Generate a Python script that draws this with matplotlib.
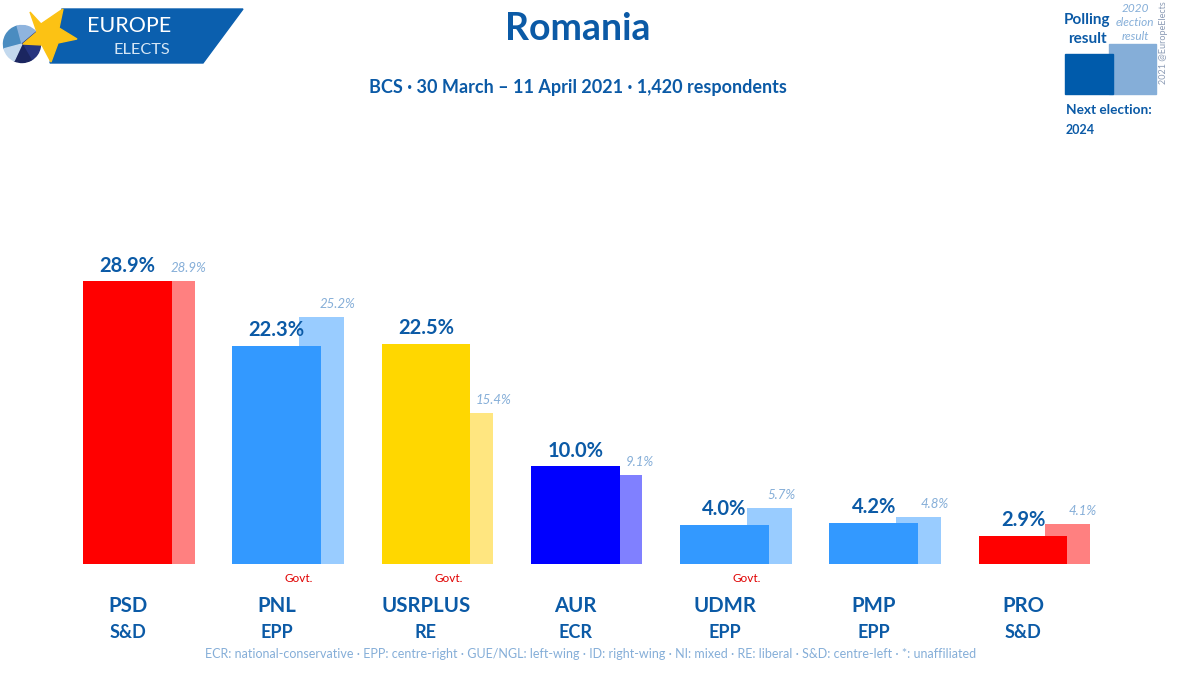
import matplotlib
matplotlib.use("Agg")
import matplotlib.pyplot as plt
from matplotlib.patches import Polygon, Rectangle, Wedge

plt.rcParams['font.family'] = ['Lato', 'DejaVu Sans']

# Poll data
parties = ["PSD", "PNL", "USRPLUS", "AUR", "UDMR", "PMP", "PRO"]
groups = ["S&D", "EPP", "RE", "ECR", "EPP", "EPP", "S&D"]
polling = [28.9, 22.3, 22.5, 10.0, 4.0, 4.2, 2.9]
election = [28.9, 25.2, 15.4, 9.1, 5.7, 4.8, 4.1]
govt = [False, True, True, False, True, False, False]
colors = ["#ff0000", "#3399ff", "#ffd700", "#0000ff", "#3399ff", "#3399ff", "#ff0000"]
light_colors = ["#ff8080", "#99ccff", "#ffe680", "#8080ff", "#99ccff", "#99ccff", "#ff8080"]

footnote = ("ECR: national-conservative · EPP: centre-right · GUE/NGL: left-wing · "
            "ID: right-wing · NI: mixed · RE: liberal · S&D: centre-left · *: unaffiliated")

DARK = "#0b5aa6"
LIGHT = "#85aed8"
PX_GROUP = 149.25  # pixels between parties
PX_PCT = 9.79  # pixels per percentage point
X0, Y0 = 127.5, 564  # pixel position of first party, baseline

fig = plt.figure(figsize=(12, 6.76), dpi=100)

# chart axes cover the whole figure, ticks are replaced by text labels
ax = fig.add_axes([0, 0, 1, 1])
ax.set_xlim(-X0 / PX_GROUP, (1200 - X0) / PX_GROUP)
ax.set_ylim(-(676 - Y0) / PX_PCT, Y0 / PX_PCT)
ax.axis("off")

x = list(range(len(parties)))
ax.bar([i + 0.30 for i in x], election, width=0.30, color=light_colors, zorder=1)
ax.bar(x, polling, width=0.596, color=colors, zorder=2)

# election labels sit a bit differently on each bar in the original
label_shift = [0.41, 0.41, 0.45, 0.43, 0.38, 0.41, 0.40]

for i in x:
    ax.annotate(f"{polling[i]:.1f}%", (i, polling[i]), xytext=(0, 4), textcoords="offset points",
                ha="center", va="bottom", fontsize=14.5, fontweight="bold", color=DARK, zorder=3)
    ax.annotate(f"{election[i]:.1f}%", (i + label_shift[i], election[i]), xytext=(0, 5), textcoords="offset points",
                ha="center", va="bottom", fontsize=9.5, style="italic", color=LIGHT, zorder=3)
    ax.annotate(parties[i], (i, 0), xytext=(0, -30.5), textcoords="offset points",
                ha="center", va="center", fontsize=14.7, fontweight="bold", color=DARK)
    ax.annotate(groups[i], (i, 0), xytext=(0, -49), textcoords="offset points",
                ha="center", va="center", fontsize=13, fontweight="bold", color=DARK)
    if govt[i]:
        ax.annotate("Govt.", (i + 0.15, 0), xytext=(0, -10.5), textcoords="offset points",
                    ha="center", va="center", fontsize=8.5, color="#e00000")

# header, footer, logo and key in pixel coordinates
top = fig.add_axes([0, 0, 1, 1], facecolor="none")
top.set_xlim(0, 1200)
top.set_ylim(676, 0)
top.axis("off")

top.text(578, 29, "Romania", ha="center", va="center", fontsize=27, fontweight="bold", color=DARK)
top.text(578, 87, "BCS · 30 March – 11 April 2021 · 1,420 respondents", ha="center", va="center",
         fontsize=13, fontweight="bold", color=DARK)
top.text(591, 654, footnote, ha="center", va="center", fontsize=9, color=LIGHT)

# logo
top.add_patch(Polygon([(62, 9), (243, 9), (203, 63), (50, 63)], color="#0b5fae", zorder=1))
pie = [(165, 255, "#4a8cc0"), (255, 320, "#8fb4de"), (320, 60, "#27357f"),
       (60, 115, "#1b2660"), (115, 165, "#c3d9ee")]
for a, b, c in pie:
    top.add_patch(Wedge((22, 44), 18.5, a, b, color=c, zorder=2))
top.add_patch(Polygon([(30, 12), (41, 24), (63, 9), (59, 28), (77, 39), (58, 43), (51, 62),
                       (42, 45), (23, 44), (37, 32)], color="#fcc214", zorder=3))
top.text(129, 26, "EUROPE", ha="center", va="center", fontsize=15.5, color="white", zorder=4)
top.text(142, 50, "ELECTS", ha="center", va="center", fontsize=11.7, color="#d5e6f5", zorder=4)

# key
top.add_patch(Rectangle((1109, 44), 47, 50, color=LIGHT, zorder=1))
top.add_patch(Rectangle((1065, 54), 48, 40, color="#005bab", zorder=2))
top.text(1087, 20, "Polling", ha="center", va="center", fontsize=11, fontweight="bold", color=DARK)
top.text(1087, 39, "result", ha="center", va="center", fontsize=11, fontweight="bold", color=DARK)
top.text(1135, 8, "2020", ha="center", va="center", fontsize=8.5, style="italic", color=LIGHT)
top.text(1135, 22, "election", ha="center", va="center", fontsize=8.5, style="italic", color=LIGHT)
top.text(1135, 36, "result", ha="center", va="center", fontsize=8.5, style="italic", color=LIGHT)
top.text(1164, 43, "2021 @EuropeElects", ha="center", va="center", rotation=90, fontsize=6.5, color="#8b9bb5")
top.text(1066, 110, "Next election:", ha="left", va="center", fontsize=9.8, fontweight="bold", color=DARK)
top.text(1066, 130, "2024", ha="left", va="center", fontsize=9, fontweight="bold", color=DARK)

fig.savefig("out.png", dpi=100)
